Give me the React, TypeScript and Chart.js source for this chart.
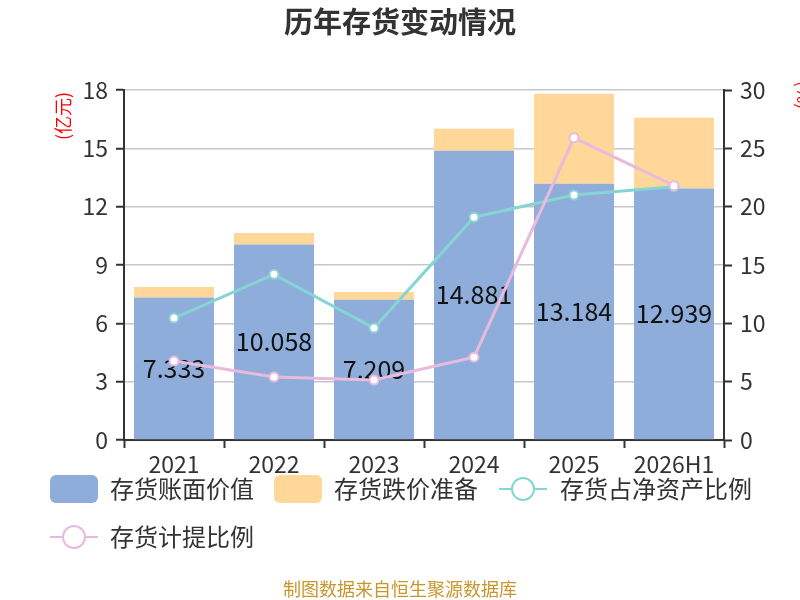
import React, { useEffect, useRef } from "react";
import { Chart, registerables } from "chart.js";

Chart.register(...registerables);

const categories = ["2021", "2022", "2023", "2024", "2025", "2026H1"];
const bookValue = [7.333, 10.058, 7.209, 14.881, 13.184, 12.939];
const reserve = [0.54, 0.59, 0.40, 1.12, 4.62, 3.63];
const netAssetRatio = [10.45, 14.2, 9.6, 19.1, 21.0, 21.7];
const provisionRatio = [6.77, 5.4, 5.14, 7.1, 25.9, 21.8];
const leftTicks = [0, 3, 6, 9, 12, 15, 18];
const rightTicks = [0, 5, 10, 15, 20, 25, 30];

const FONT = '"Noto Sans CJK SC", "Noto Sans", sans-serif';
const BLUE = "#8FADDA";
const ORANGE = "#FFD899";
const TEAL = "#86D4D4";
const PINK = "#E8BADD";

const decor = {
  id: "decor",
  afterDatasetDraw(chart: any, args: any) {
    if (args.index !== 0) return;
    const ctx = chart.ctx;
    const meta = chart.getDatasetMeta(0);
    ctx.save();
    ctx.font = `25px ${FONT}`;
    ctx.fillStyle = "#111";
    ctx.textAlign = "center";
    ctx.textBaseline = "middle";
    meta.data.forEach((el: any, i: number) => {
      ctx.fillText(bookValue[i].toFixed(3), el.x, (el.y + el.base) / 2);
    });
    ctx.restore();
  },
  afterDraw(chart: any) {
    const ctx = chart.ctx;
    ctx.save();
    // title
    ctx.font = `bold 29px ${FONT}`;
    ctx.fillStyle = "#333";
    ctx.textAlign = "center";
    ctx.textBaseline = "middle";
    ctx.fillText("历年存货变动情况", 400, 22);
    // axis titles
    ctx.font = `18px ${FONT}`;
    ctx.fillStyle = "#FF0000";
    ctx.save();
    ctx.translate(63, 116);
    ctx.rotate(-Math.PI / 2);
    ctx.fillText("(亿元)", 0, 0);
    ctx.restore();
    ctx.save();
    ctx.translate(804, 95);
    ctx.rotate(Math.PI / 2);
    ctx.fillText("(%)", 0, 0);
    ctx.restore();
    // legend
    ctx.font = `24px ${FONT}`;
    ctx.textAlign = "left";
    ctx.textBaseline = "middle";
    const box = (x: number, y: number, color: string) => {
      ctx.fillStyle = color;
      ctx.beginPath();
      (ctx as any).roundRect(x, y - 14, 48, 28, 6);
      ctx.fill();
    };
    const lineItem = (x: number, y: number, color: string) => {
      ctx.strokeStyle = color;
      ctx.lineWidth = 2;
      ctx.beginPath();
      ctx.moveTo(x, y);
      ctx.lineTo(x + 48, y);
      ctx.stroke();
      ctx.fillStyle = "#fff";
      ctx.beginPath();
      ctx.arc(x + 24, y, 11, 0, Math.PI * 2);
      ctx.fill();
      ctx.stroke();
    };
    const row1 = 489;
    const row2 = 537;
    box(50, row1, BLUE);
    ctx.fillStyle = "#333";
    ctx.fillText("存货账面价值", 110, row1);
    box(274, row1, ORANGE);
    ctx.fillStyle = "#333";
    ctx.fillText("存货跌价准备", 334, row1);
    lineItem(499, row1, TEAL);
    ctx.fillStyle = "#333";
    ctx.fillText("存货占净资产比例", 560, row1);
    lineItem(50, row2, PINK);
    ctx.fillStyle = "#333";
    ctx.fillText("存货计提比例", 110, row2);
    // footer
    ctx.font = `18px ${FONT}`;
    ctx.fillStyle = "#C8962C";
    ctx.textAlign = "center";
    ctx.fillText("制图数据来自恒生聚源数据库", 400, 589);
    ctx.restore();
  },
};

export default function App() {
  const ref = useRef<HTMLCanvasElement>(null);
  useEffect(() => {
    if (!ref.current) return;
    const tickFont = { family: FONT, size: 23 };
    const chart = new Chart(ref.current, {
      type: "bar",
      data: {
        labels: categories,
        datasets: [
          {
            type: "bar",
            label: "存货账面价值",
            data: bookValue,
            backgroundColor: BLUE,
            yAxisID: "y",
            stack: "s",
            order: 3,
            barPercentage: 0.8,
            categoryPercentage: 1,
          },
          {
            type: "bar",
            label: "存货跌价准备",
            data: reserve,
            backgroundColor: ORANGE,
            yAxisID: "y",
            stack: "s",
            order: 3,
            barPercentage: 0.8,
            categoryPercentage: 1,
          },
          {
            type: "line",
            label: "存货占净资产比例",
            data: netAssetRatio,
            borderColor: TEAL,
            borderWidth: 3,
            pointRadius: 4.5,
            pointBackgroundColor: "#fff",
            pointBorderColor: TEAL,
            pointBorderWidth: 2,
            yAxisID: "y1",
            order: 2,
          } as any,
          {
            type: "line",
            label: "存货计提比例",
            data: provisionRatio,
            borderColor: PINK,
            borderWidth: 3,
            pointRadius: 4.5,
            pointBackgroundColor: "#fff",
            pointBorderColor: PINK,
            pointBorderWidth: 2,
            yAxisID: "y1",
            order: 1,
          } as any,
        ],
      },
      options: {
        responsive: false,
        animation: false,
        layout: { padding: { left: 60, right: 26, top: 90, bottom: 120 } },
        plugins: {
          legend: { display: false },
          tooltip: { enabled: false },
          title: { display: false },
        },
        scales: {
          x: {
            stacked: true,
            offset: true,
            grid: {
              offset: true,
              drawOnChartArea: false,
              drawTicks: true,
              tickLength: 8,
              tickColor: "#333",
              tickWidth: 2,
            },
            border: { color: "#333", width: 2 },
            ticks: { font: tickFont, color: "#333", padding: 2, maxRotation: 0, autoSkip: false },
            afterFit: (s: any) => {
              s.height = 40;
            },
          },
          y: {
            position: "left",
            stacked: true,
            min: 0,
            max: 18,
            afterBuildTicks: (s: any) => {
              s.ticks = leftTicks.map((v) => ({ value: v }));
            },
            grid: {
              color: "#C8C8C8",
              lineWidth: 1.5,
              drawTicks: true,
              tickLength: 8,
              tickColor: "#333",
              tickWidth: 2,
            },
            border: { color: "#333", width: 2 },
            ticks: { font: tickFont, color: "#333", padding: 8 },
            afterFit: (s: any) => {
              s.width = 64;
            },
          },
          y1: {
            position: "right",
            min: 0,
            max: 30,
            afterBuildTicks: (s: any) => {
              s.ticks = rightTicks.map((v) => ({ value: v }));
            },
            grid: {
              drawOnChartArea: false,
              drawTicks: true,
              tickLength: 8,
              tickColor: "#333",
              tickWidth: 2,
            },
            border: { color: "#333", width: 2 },
            ticks: { font: tickFont, color: "#333", padding: 8 },
            afterFit: (s: any) => {
              s.width = 50;
            },
          },
        },
      } as any,
      plugins: [decor],
    });
    return () => chart.destroy();
  }, []);
  return (
    <div style={{ position: "fixed", left: 0, top: 0, width: 800, height: 600, background: "#fff" }}>
      <canvas ref={ref} width={800} height={600} />
    </div>
  );
}
